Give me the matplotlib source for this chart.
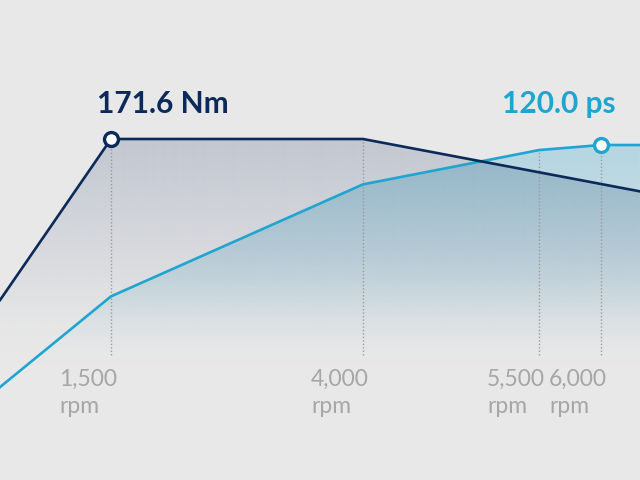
import numpy as np
import matplotlib
matplotlib.use("Agg")
import matplotlib.pyplot as plt
from matplotlib.path import Path
from matplotlib.transforms import IdentityTransform
from matplotlib.colors import to_rgb

# ---------------- data ----------------
torque_rpm = [400, 1500, 4000, 6314]
torque_nm = [43.7, 171.6, 171.6, 130.0]

power_rpm = [400, 1500, 4000, 5500, 6000, 6314]
power_ps = [-18.3, 33.5, 97.5, 117.1, 120.0, 120.0]

tick_rpm = [1500, 4000, 5500, 6000]
tick_labels = ["1,500\nrpm", "4,000\nrpm", "5,500\nrpm", "6,000\nrpm"]

peak_torque_rpm, peak_torque = 1500, 171.6
peak_power_rpm, peak_power = 6000, 120.0
torque_label = "171.6 Nm"
power_label = "120.0 ps"

# ---------------- style ----------------
BG = "#e8e8e8"
NAVY = "#0b2a5a"
CYAN = "#1fa5cf"
GRAY_TXT = "#a6a6a6"
DOT = "#9a9a9a"

W, H = 640, 480
fig = plt.figure(figsize=(6.4, 4.8), dpi=100, facecolor=BG)
ax = fig.add_axes([0, 0, 1, 1])
ax.set_facecolor(BG)

# piecewise-linear rpm scale (the chart's rpm axis is not uniform)
tick_pos = np.array([111, 363, 539, 601]) / W
kr = np.array(tick_rpm, dtype=float)
s_left = (tick_pos[1] - tick_pos[0]) / (kr[1] - kr[0])
s_right = (tick_pos[3] - tick_pos[2]) / (kr[3] - kr[2])
R = np.concatenate([[-1e5], kr, [1e5]])
P = np.concatenate([[tick_pos[0] - (kr[0] + 1e5) * s_left], tick_pos,
                    [tick_pos[3] + (1e5 - kr[3]) * s_right]])

def fwd(x):
    return np.interp(x, R, P)

def inv(y):
    return np.interp(y, P, R)

ax.set_xscale("function", functions=(fwd, inv))
ax.set_xlim(inv(0.0), inv(1.0))

# y: zero at pixel row 355, peaks at rows 139 (torque) / 145 (power)
zero_px = 355
t_scale = (zero_px - 139) / peak_torque
p_scale = (zero_px - 145) / peak_power
ax.set_ylim(-(H - zero_px) / t_scale, zero_px / t_scale)
ax2 = ax.twinx()
ax2.set_ylim(-(H - zero_px) / p_scale, zero_px / p_scale)
ax.axis("off")
ax2.axis("off")


def gradient(color, px_knots, alphas, sigma=12):
    n = 480
    ypx = np.linspace(H, 0, n)  # bottom row first (origin='lower')
    a = np.interp(ypx, px_knots, alphas)
    k = np.arange(-3 * sigma, 3 * sigma + 1)
    g = np.exp(-0.5 * (k / sigma) ** 2)
    g /= g.sum()
    a = np.convolve(np.pad(a, 3 * sigma, mode="edge"), g, mode="valid")
    img = np.zeros((n, 1, 4))
    img[..., :3] = to_rgb(color)
    img[:, 0, 3] = np.clip(a, 0, 1)
    return img


def shade(img, clip_path, clip_trans, z):
    im = ax.imshow(img, extent=(0, 1, 0, 1), transform=ax.transAxes,
                   origin="lower", aspect="auto", interpolation="bilinear",
                   zorder=z)
    im.set_clip_path(clip_path, clip_trans)


# area under torque curve
ylo_t = ax.get_ylim()[0]
v = list(zip(torque_rpm, torque_nm)) + [(torque_rpm[-1], ylo_t), (torque_rpm[0], ylo_t)]
tpath = Path(v + [v[0]], closed=True)
shade(gradient("#b4bac8", [139, 150, 280, 315, 345, 480],
               [0.72, 0.68, 0.21, 0.06, 0.0, 0.0]),
      tpath, ax.transData, 1)

# area under power curve
ylo_p = ax2.get_ylim()[0]
v = list(zip(power_rpm, power_ps)) + [(power_rpm[-1], ylo_p), (power_rpm[0], ylo_p)]
ppath = Path(v + [v[0]], closed=True)
shade(gradient("#8fc8dd", [0, 145, 290, 330, 360, 480],
               [0.58, 0.58, 0.21, 0.05, 0.0, 0.0]),
      ppath, ax2.transData, 2)

# area under both curves (darker overlap), built in display space
td = ax.transData.transform(np.column_stack([torque_rpm, torque_nm]))
pd = ax2.transData.transform(np.column_stack([power_rpm, power_ps]))
xs = np.linspace(0, W, 1281)
ymin = np.minimum(np.interp(xs, td[:, 0], td[:, 1]), np.interp(xs, pd[:, 0], pd[:, 1]))
bv = np.column_stack([np.concatenate([xs, [W, 0]]), np.concatenate([ymin, [-10, -10]])])
bpath = Path(np.vstack([bv, bv[:1]]), closed=True)
shade(gradient("#36607a", [0, 170, 190, 250, 295, 340, 480],
               [0.15, 0.15, 0.13, 0.08, 0.035, 0.0, 0.0]),
      bpath, IdentityTransform(), 2.5)

# dotted drop lines
for r in tick_rpm:
    tv = np.interp(r, torque_rpm, torque_nm)
    pv = np.interp(r, power_rpm, power_ps)
    if tv * t_scale >= pv * p_scale:
        ax.plot([r, r], [0, tv], ls=(0, (1, 1.5)), color=DOT, lw=1.0, zorder=3)
    else:
        ax.plot([r, r], [0, pv], ls=(0, (1, 1.5)), color=DOT, lw=1.0,
                zorder=3, transform=ax2.transData)

# lines
ax.plot(torque_rpm, torque_nm, color=NAVY, lw=1.9, zorder=5)
ax.plot(power_rpm, power_ps, color=CYAN, lw=1.9, zorder=4, transform=ax2.transData)

# peak markers
ax.plot([peak_torque_rpm], [peak_torque], "o", ms=10, mfc="white", mec=NAVY,
        mew=2.4, zorder=7)
ax.plot([peak_power_rpm], [peak_power], "o", ms=10, mfc="white", mec=CYAN,
        mew=2.4, zorder=7, transform=ax2.transData)

# peak labels
fx_t = fwd(peak_torque_rpm) - 14 / W
fx_p = fwd(peak_power_rpm) + 15 / W
fig.text(fx_t, 1 - 113 / H, torque_label, ha="left", va="baseline",
         family="Lato", weight="bold", fontsize=21.5, color=NAVY)
fig.text(fx_p, 1 - 113 / H, power_label, ha="right", va="baseline",
         family="Lato", weight="bold", fontsize=21.5, color=CYAN)

# rpm labels
for r, lab in zip(tick_rpm, tick_labels):
    fig.text(fwd(r) + 6 / W, 1 - 369 / H, lab, ha="right", va="top",
             multialignment="left", family="Lato", weight="normal", fontsize=16.5,
             color=GRAY_TXT, linespacing=1.37)

fig.savefig("out.png", dpi=100, facecolor=BG)
